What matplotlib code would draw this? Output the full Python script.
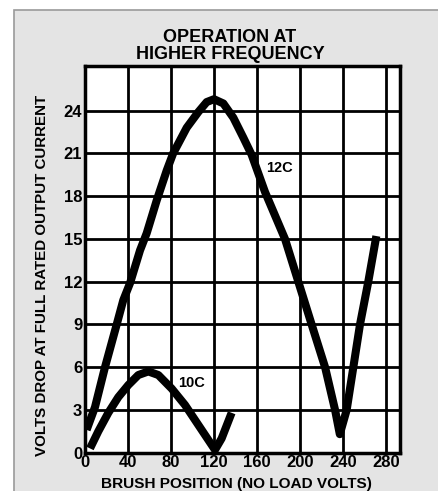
import matplotlib
matplotlib.use("Agg")
import matplotlib.pyplot as plt
from matplotlib.patches import Rectangle

plt.rcParams['font.family'] = ['Liberation Sans', 'DejaVu Sans']
plt.rcParams['font.weight'] = 'bold'

# values
x_12c = [1.5, 9.3, 18.6, 29.5, 35.6, 41.9, 51.2, 57.4, 66.7, 76, 82, 94.6, 105.4,
         113.2, 120, 128.7, 138, 147.3, 155, 167.4, 186, 198.4, 210.8, 223.3,
         232.6, 237, 243.4, 249.6, 255.8, 263.5, 271]
y_12c = [1.6, 3.2, 6, 9, 10.7, 11.9, 14.2, 15.4, 17.7, 19.8, 21, 22.8, 23.9,
         24.6, 24.8, 24.5, 23.5, 22.1, 20.9, 18.3, 15, 12, 9, 6,
         3, 1.3, 3, 6, 9, 12, 15.2]

x_10c = [4.65, 12.4, 21.7, 31, 40.3, 49.6, 58.9, 68.2, 80.6, 93, 105.4, 114.7, 120.9, 127.1, 136.4]
y_10c = [0.3, 1.5, 2.8, 3.9, 4.75, 5.45, 5.7, 5.45, 4.5, 3.35, 1.95, 0.9, 0.2, 1.0, 2.8]

xticks = [0, 40, 80, 120, 160, 200, 240, 280]
yticks = [0, 3, 6, 9, 12, 15, 18, 21, 24]

fig = plt.figure(figsize=(4.38, 4.91), dpi=100)
fig.patch.set_facecolor('white')

# stippled scan background
bg = fig.add_axes([0, 0, 1, 1])
bg.set_axis_off()
bg.set_xlim(0, 438)
bg.set_ylim(491, 0)
bg.add_patch(Rectangle((14, 10), 430, 490, facecolor='#e4e4e4', edgecolor='#9a9a9a', lw=1.2))

ax = fig.add_axes([85 / 438, 1 - 452.7 / 491, 315 / 438, (452.7 - 65.7) / 491])
ax.set_facecolor('white')

ax.plot(x_12c, y_12c, color='black', lw=5.8, solid_joinstyle='round', solid_capstyle='butt', zorder=3)
ax.plot(x_10c, y_10c, color='black', lw=5.8, solid_joinstyle='round', solid_capstyle='butt', zorder=3)

ax.set_xlim(0, 293)
ax.set_ylim(0, 27.15)
ax.set_xticks(xticks)
ax.set_yticks(yticks)
ax.tick_params(length=0, labelsize=12, pad=2)
for lab in ax.get_xticklabels() + ax.get_yticklabels():
    lab.set_fontweight('bold')
ax.grid(True, color='black', lw=2)
for s in ax.spines.values():
    s.set_linewidth(2.5)

ax.text(181, 20.0, '12C', fontsize=10.5, fontweight='bold', ha='center', va='center', zorder=4)
ax.text(99, 4.9, '10C', fontsize=10.5, fontweight='bold', ha='center', va='center', zorder=4)

fig.text(230 / 438, 1 - 41.7 / 491, 'OPERATION AT', ha='center', va='baseline',
         fontsize=13, fontweight='bold')
fig.text(230 / 438, 1 - 59.3 / 491, 'HIGHER FREQUENCY', ha='center', va='baseline',
         fontsize=13, fontweight='bold')
fig.text(41.7 / 438, 1 - 275 / 491, 'VOLTS DROP AT FULL RATED OUTPUT CURRENT', rotation=90,
         ha='center', va='center', fontsize=10.9, fontweight='bold')
fig.text(236 / 438, 1 - 484 / 491, 'BRUSH POSITION (NO LOAD VOLTS)', ha='center', va='center',
         fontsize=11.1, fontweight='bold')

fig.savefig('out.png', dpi=100)
